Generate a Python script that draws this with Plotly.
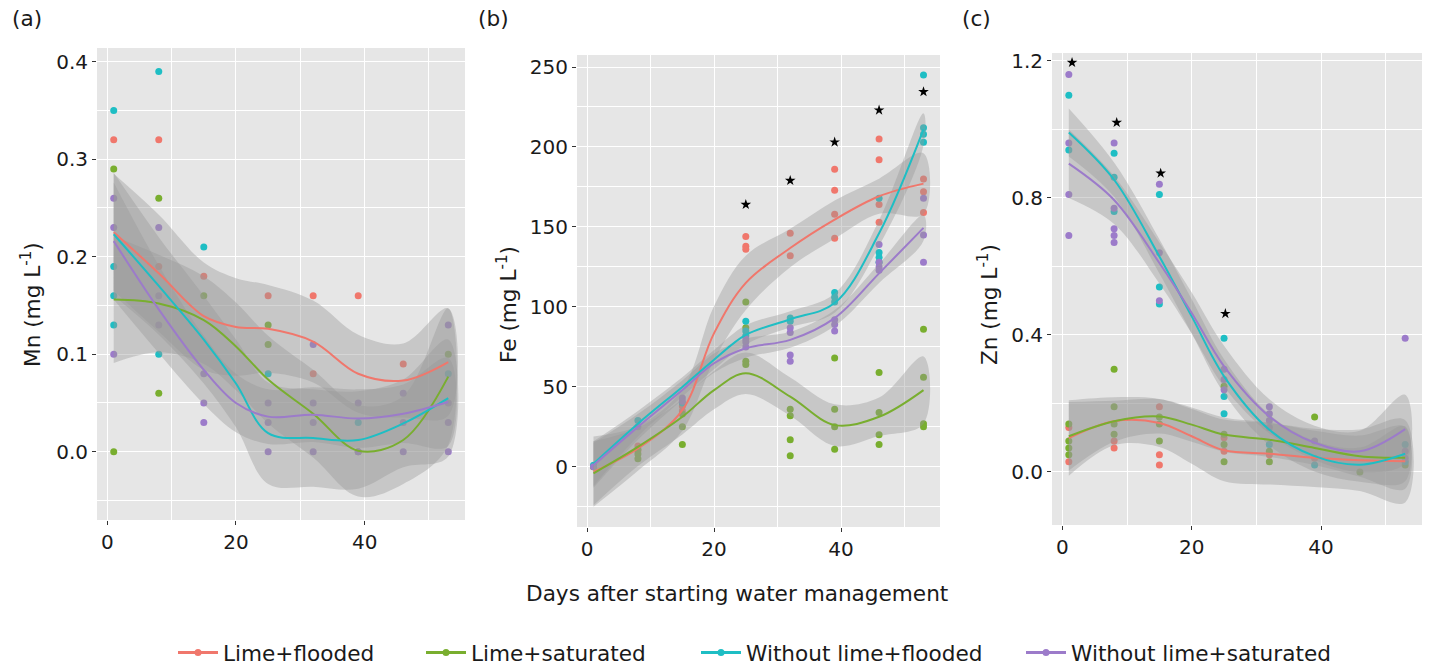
import plotly.graph_objects as go

W, H = 1429, 666
FONT = "DejaVu Sans"
TXT = 21.6

TREATMENTS = ["Lime+flooded", "Lime+saturated", "Without lime+flooded", "Without lime+saturated"]
COLORS = ["#F0776C", "#79AE2F", "#1EBEC4", "#9C7BCA"]
LEGEND_TEXT_X = [221, 469, 744, 1069]   # left edge of each legend label, px

# x positions at which the smoothed (loess) curves were read
FIT_X = [1, 8, 15, 20, 25, 32, 39, 46, 53]

# ---------------- Panel (a) Mn ----------------
mn_lf_x = [1, 8, 8, 15, 25, 32, 32, 39, 46]
mn_lf_y = [0.32, 0.32, 0.19, 0.18, 0.16, 0.16, 0.08, 0.16, 0.09]
mn_ls_x = [1, 1, 8, 8, 15, 25, 25, 39, 53]
mn_ls_y = [0.29, 0.0, 0.26, 0.06, 0.16, 0.13, 0.11, 0.0, 0.10]
mn_wf_x = [1, 1, 1, 1, 8, 8, 15, 25, 39, 53]
mn_wf_y = [0.35, 0.19, 0.16, 0.13, 0.39, 0.10, 0.21, 0.08, 0.03, 0.08]
mn_ws_x = [1, 1, 1, 8, 8, 8, 15, 15, 15, 25, 25, 25, 32, 32, 32, 32, 39, 39, 46, 46, 46, 53, 53, 53, 53]
mn_ws_y = [0.26, 0.23, 0.10, 0.23, 0.16, 0.13, 0.08, 0.05, 0.03, 0.05, 0.03, 0.0,
           0.11, 0.05, 0.03, 0.0, 0.05, 0.0, 0.06, 0.03, 0.0, 0.13, 0.05, 0.03, 0.0]

mn_fit_lf = [0.225, 0.183, 0.139, 0.128, 0.126, 0.113, 0.080, 0.073, 0.092]
mn_fit_ls = [0.156, 0.152, 0.135, 0.108, 0.074, 0.039, 0.001, 0.012, 0.077]
mn_fit_wf = [0.223, 0.170, 0.115, 0.070, 0.019, 0.014, 0.012, 0.029, 0.055]
mn_fit_ws = [0.216, 0.146, 0.084, 0.050, 0.036, 0.038, 0.034, 0.039, 0.051]

mn_se_lf = [0.060, 0.060, 0.055, 0.050, 0.045, 0.042, 0.040, 0.038, 0.055]
mn_se_ls = [0.065, 0.050, 0.045, 0.045, 0.045, 0.045, 0.047, 0.045, 0.070]
mn_se_wf = [0.063, 0.050, 0.045, 0.045, 0.052, 0.050, 0.050, 0.045, 0.060]
mn_se_ws = [0.060, 0.045, 0.035, 0.030, 0.028, 0.028, 0.030, 0.030, 0.045]

# ---------------- Panel (b) Fe ----------------
fe_lf_x = [1, 8, 8, 15, 15, 25, 25, 25, 32, 32, 39, 39, 39, 39, 46, 46, 46, 46, 53, 53, 53]
fe_lf_y = [0, 13, 10, 38, 35, 144, 138, 136, 146, 132, 186, 173, 158, 143, 205, 192, 164, 153, 180, 172, 159]
fe_ls_x = [1, 8, 8, 8, 15, 15, 15, 25, 25, 25, 25, 32, 32, 32, 32, 39, 39, 39, 39, 46, 46, 46, 46, 53, 53, 53, 53]
fe_ls_y = [0, 11, 8, 5, 33, 25, 14, 103, 87, 66, 64, 36, 32, 17, 7, 68, 36, 25, 11, 59, 34, 20, 14, 86, 56, 27, 25]
fe_wf_x = [1, 8, 15, 25, 25, 25, 32, 32, 39, 39, 39, 46, 46, 46, 46, 53, 53, 53, 53]
fe_wf_y = [1, 29, 40, 91, 85, 82, 93, 91, 109, 106, 103, 168, 134, 131, 128, 245, 212, 208, 203]
fe_ws_x = [1, 8, 15, 15, 25, 25, 25, 32, 32, 32, 32, 39, 39, 39, 46, 46, 46, 46, 53, 53, 53]
fe_ws_y = [0, 25, 43, 41, 80, 78, 75, 87, 84, 70, 66, 92, 89, 85, 139, 128, 125, 123, 168, 145, 128]

fe_fit_lf = [-3, 11.5, 35.5, 83.6, 115, 136.8, 154.6, 169.2, 177.1]
fe_fit_ls = [-4, 12.5, 31.3, 48, 58.5, 43.9, 26.1, 31.3, 48]
fe_fit_wf = [2, 27, 50, 67, 82.5, 92.3, 102.4, 146, 211]
fe_fit_ws = [1, 25, 48, 64.8, 74.2, 79.4, 93, 121, 149.4]

fe_se_lf = [22, 14, 13, 17, 17, 12, 12, 11, 19]
fe_se_ls = [20, 12, 11, 12, 13, 12, 13, 12, 21]
fe_se_wf = [14, 8, 6, 6, 6, 5, 6, 8, 10]
fe_se_ws = [14, 8, 6, 6, 6, 5, 5, 6, 8]

fe_star_x = [25, 32, 39, 46, 53]
fe_star_y = [164, 179, 203, 223, 234.5]

# ---------------- Panel (c) Zn ----------------
zn_lf_x = [1, 1, 8, 8, 15, 15, 15, 25, 25, 32, 39, 53]
zn_lf_y = [0.13, 0.03, 0.09, 0.07, 0.19, 0.05, 0.02, 0.06, 0.10, 0.05, 0.04, 0.03]
zn_ls_x = [1, 1, 1, 1, 8, 8, 8, 8, 15, 15, 15, 25, 25, 25, 25, 32, 32, 39, 46, 53]
zn_ls_y = [0.14, 0.09, 0.07, 0.05, 0.30, 0.19, 0.14, 0.11, 0.16, 0.14, 0.09, 0.25, 0.11, 0.08, 0.03,
           0.06, 0.03, 0.16, 0.0, 0.02]
zn_wf_x = [1, 1, 8, 8, 8, 15, 15, 15, 25, 25, 25, 32, 39, 53, 53]
zn_wf_y = [1.10, 0.94, 0.93, 0.86, 0.76, 0.81, 0.54, 0.49, 0.39, 0.22, 0.17, 0.08, 0.02, 0.08, 0.03]
zn_ws_x = [1, 1, 1, 1, 8, 8, 8, 8, 8, 15, 15, 15, 25, 25, 25, 32, 32, 32, 32, 39, 53, 53, 53]
zn_ws_y = [1.16, 0.96, 0.81, 0.69, 0.96, 0.77, 0.71, 0.69, 0.67, 0.84, 0.64, 0.50, 0.30, 0.27, 0.24,
           0.19, 0.17, 0.15, 0.13, 0.09, 0.39, 0.06, 0.04]

zn_fit_lf = [0.099, 0.148, 0.143, 0.104, 0.063, 0.053, 0.041, 0.034, 0.031]
zn_fit_ls = [0.104, 0.148, 0.162, 0.138, 0.109, 0.094, 0.070, 0.046, 0.041]
zn_fit_wf = [0.991, 0.853, 0.629, 0.454, 0.279, 0.123, 0.046, 0.021, 0.053]
zn_fit_ws = [0.900, 0.794, 0.610, 0.464, 0.308, 0.162, 0.085, 0.060, 0.125]

zn_se_lf = [0.11, 0.07, 0.07, 0.08, 0.09, 0.09, 0.085, 0.09, 0.12]
zn_se_ls = [0.10, 0.06, 0.05, 0.05, 0.05, 0.05, 0.05, 0.06, 0.09]
zn_se_wf = [0.07, 0.05, 0.05, 0.05, 0.05, 0.045, 0.045, 0.05, 0.08]
zn_se_ws = [0.10, 0.07, 0.06, 0.06, 0.06, 0.05, 0.05, 0.06, 0.10]

zn_star_x = [1.5, 8.4, 15.2, 25.2]
zn_star_y = [1.195, 1.02, 0.872, 0.462]

PANELS = [
    dict(pts=[(mn_lf_x, mn_lf_y), (mn_ls_x, mn_ls_y), (mn_wf_x, mn_wf_y), (mn_ws_x, mn_ws_y)],
         fits=[mn_fit_lf, mn_fit_ls, mn_fit_wf, mn_fit_ws],
         ses=[mn_se_lf, mn_se_ls, mn_se_wf, mn_se_ws], stars=None),
    dict(pts=[(fe_lf_x, fe_lf_y), (fe_ls_x, fe_ls_y), (fe_wf_x, fe_wf_y), (fe_ws_x, fe_ws_y)],
         fits=[fe_fit_lf, fe_fit_ls, fe_fit_wf, fe_fit_ws],
         ses=[fe_se_lf, fe_se_ls, fe_se_wf, fe_se_ws], stars=(fe_star_x, fe_star_y)),
    dict(pts=[(zn_lf_x, zn_lf_y), (zn_ls_x, zn_ls_y), (zn_wf_x, zn_wf_y), (zn_ws_x, zn_ws_y)],
         fits=[zn_fit_lf, zn_fit_ls, zn_fit_wf, zn_fit_ws],
         ses=[zn_se_lf, zn_se_ls, zn_se_wf, zn_se_ws], stars=(zn_star_x, zn_star_y)),
]

# layout geometry in pixels (left, right, top, bottom)
BOXES = [(97, 465, 48, 520), (577, 940, 55, 527), (1052, 1422, 53, 525)]
YRANGES = [[-0.07, 0.414], [-37.6, 257.5], [-0.155, 1.223]]
YDTICK = [0.1, 50, 0.4]
YFMT = [".1f", "d", ".1f"]
XRANGE = [-1.6, 55.6]

fig = go.Figure()

for p, panel in enumerate(PANELS):
    xa = "x" if p == 0 else f"x{p+1}"
    ya = "y" if p == 0 else f"y{p+1}"
    for i, (px, py) in enumerate(panel["pts"]):
        fig.add_trace(go.Scatter(x=px, y=py, mode="markers", xaxis=xa, yaxis=ya,
                                 marker=dict(color=COLORS[i], size=7), showlegend=False,
                                 hoverinfo="skip"))
    for i in range(4):
        fit, se = panel["fits"][i], panel["ses"][i]
        up = [f + s for f, s in zip(fit, se)]
        lo = [f - s for f, s in zip(fit, se)]
        fig.add_trace(go.Scatter(x=FIT_X + FIT_X[::-1], y=up + lo[::-1], mode="lines",
                                 fill="toself", fillcolor="rgba(153,153,153,0.4)",
                                 line=dict(width=0, shape="spline", smoothing=1.0),
                                 xaxis=xa, yaxis=ya, showlegend=False, hoverinfo="skip"))
    for i in range(4):
        fig.add_trace(go.Scatter(x=FIT_X, y=panel["fits"][i], mode="lines", xaxis=xa, yaxis=ya,
                                 line=dict(color=COLORS[i], width=2, shape="spline", smoothing=1.0),
                                 showlegend=False, hoverinfo="skip"))
    if panel["stars"]:
        sx, sy = panel["stars"]
        fig.add_trace(go.Scatter(x=sx, y=sy, mode="markers", xaxis=xa, yaxis=ya,
                                 marker=dict(symbol="star", color="black", size=8),
                                 showlegend=False, hoverinfo="skip"))

# legend entries, one legend box per treatment so each can sit at its own place
legend_keys = ["legend", "legend2", "legend3", "legend4"]
for i, name in enumerate(TREATMENTS):
    fig.add_trace(go.Scatter(x=[None], y=[None], mode="lines+markers", name=name,
                             legend=legend_keys[i],
                             line=dict(color=COLORS[i], width=3),
                             marker=dict(color=COLORS[i], size=7)))

axis_common = dict(showgrid=True, gridcolor="white", gridwidth=1.2, zeroline=False,
                   showline=False, ticks="outside", ticklen=4, tickcolor="#333333",
                   automargin=False,
                   tickfont=dict(family=FONT, size=20, color="#1a1a1a"))

layout = dict(
    width=W, height=H, margin=dict(l=0, r=0, t=0, b=0, autoexpand=False),
    paper_bgcolor="white", plot_bgcolor="#E6E6E6",
    font=dict(family=FONT, size=TXT, color="#1a1a1a"),
    showlegend=True,
)
for i, key in enumerate(legend_keys):
    layout[key] = dict(orientation="h", x=(LEGEND_TEXT_X[i] - 48) / W, xanchor="left",
                       y=1 - 653 / H, yanchor="middle", itemwidth=40,
                       font=dict(family=FONT, size=TXT, color="#1a1a1a"),
                       bgcolor="rgba(0,0,0,0)")

for p, (l, r, t, b) in enumerate(BOXES):
    xk = "xaxis" if p == 0 else f"xaxis{p+1}"
    yk = "yaxis" if p == 0 else f"yaxis{p+1}"
    ya = "y" if p == 0 else f"y{p+1}"
    xa = "x" if p == 0 else f"x{p+1}"
    layout[xk] = dict(axis_common, domain=[l / W, r / W], range=XRANGE, anchor=ya,
                      tickmode="linear", tick0=0, dtick=20,
                      minor=dict(dtick=10, showgrid=True, gridcolor="white", gridwidth=0.6))
    layout[yk] = dict(axis_common, domain=[1 - b / H, 1 - t / H], range=YRANGES[p], anchor=xa,
                      tickmode="linear", tick0=0, dtick=YDTICK[p], tickformat=YFMT[p],
                      minor=dict(dtick=YDTICK[p] / 2, showgrid=True, gridcolor="white",
                                 gridwidth=0.6))

fig.update_layout(**layout)

annotations = []
for lab, x in [("(a)", 27), ("(b)", 493), ("(c)", 976)]:
    annotations.append(dict(text=lab, x=x / W, y=1 - 19 / H, xref="paper", yref="paper",
                            showarrow=False, xanchor="center", yanchor="middle",
                            font=dict(family=FONT, size=TXT, color="#1a1a1a")))
for lab, x in [("Mn (mg L<sup>-1</sup>)", 31), ("Fe (mg L<sup>-1</sup>)", 507),
               ("Zn (mg L<sup>-1</sup>)", 988)]:
    annotations.append(dict(text=lab, x=x / W, y=1 - 305 / H, xref="paper", yref="paper",
                            showarrow=False, xanchor="center", yanchor="middle", textangle=-90,
                            font=dict(family=FONT, size=TXT, color="#1a1a1a")))
annotations.append(dict(text="Days after starting water management", x=737 / W, y=1 - 593 / H,
                        xref="paper", yref="paper", showarrow=False, xanchor="center",
                        yanchor="middle", font=dict(family=FONT, size=TXT, color="#1a1a1a")))
fig.update_layout(annotations=annotations)

fig.write_html("out.html")
